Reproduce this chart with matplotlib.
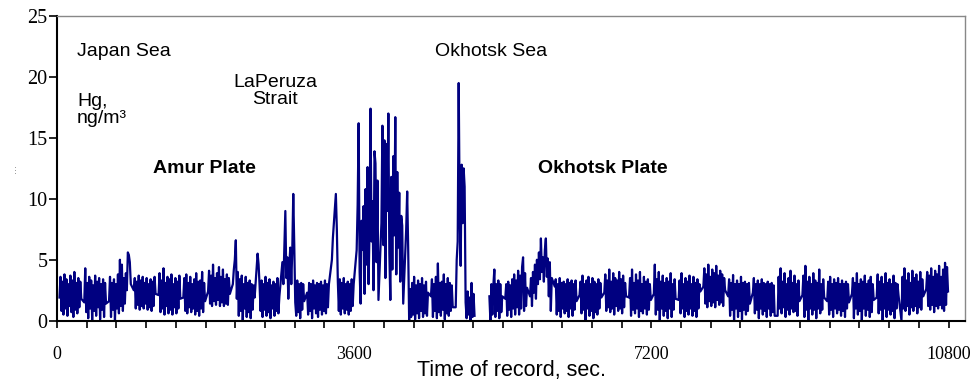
import numpy as np
import matplotlib
matplotlib.use('Agg')
import matplotlib.pyplot as plt

nan = np.nan

# recorder writes blocks of 23 samples, one block every 300 s
block_period = 300
block_offset = 30
sample_step = 12
samples_per_block = 23

# Hg, ng/m3, block by block
japan_sea = [
    1.9, 3.6, 0.8, 3.2, 0.5, 3.8, 1.0, 3.4, 0.4, 3.0, 1.2, 3.7, 0.7, 3.3, 0.3, 4.0, 0.9, 3.1, 0.6, 3.5, 1.1, 3.2, 1.8,
    1.5, 4.3, 0.7, 3.1, 0.2, 3.6, 1.0, 3.3, 0.0, 2.9, 0.8, 3.7, 0.4, 3.2, 1.1, 3.5, 0.1, 3.0, 0.9, 3.4, 0.3, 3.1, 1.4,
    1.6, 3.6, 0.3, 3.1, 0.9, 3.4, 0.0, 3.0, 1.0, 3.8, 0.6, 5.0, 1.2, 4.6, 0.8, 3.5, 1.4, 3.9, 2.5, 5.6, 5.4, 4.8, 3.0,
    2.5, 3.5, 1.0, 3.2, 1.3, 3.7, 0.9, 3.3, 1.2, 3.6, 1.0, 3.1, 1.4, 3.5, 0.9, 3.0, 1.1, 3.4, 0.8, 3.2, 1.2, 3.6, 2.2,
    2.1, 3.9, 0.7, 3.3, 1.0, 4.3, 0.5, 3.1, 1.2, 3.6, 0.6, 3.4, 0.9, 3.8, 0.5, 3.0, 1.1, 3.5, 0.6, 3.2, 1.0, 3.7, 1.8,
    1.9, 3.5, 0.8, 3.8, 0.6, 3.1, 1.1, 3.6, 0.7, 3.0, 1.0, 3.4, 0.5, 3.9, 0.8, 3.2, 0.4, 3.3, 1.0, 4.0, 0.7, 3.1, 1.6,
    2.4, 4.1, 1.4, 3.7, 1.2, 4.6, 1.6, 3.5, 1.3, 3.9, 1.7, 4.4, 1.2, 3.6, 1.5, 4.2, 1.2, 3.4, 1.4, 3.8, 1.3, 3.5, 2.2,
]
la_peruza = [
    3.0, 4.2, 5.0, 6.6, 1.8, 4.0, 0.4, 3.4, 0.8, 3.7, 0.0, 3.0, 1.0, 3.6, 0.3, 3.1, 0.7, 3.3, 0.2, 3.0, 0.9, 2.9, 1.9,
    5.5, 4.6, 2.9, 0.8, 3.3, 0.3, 3.0, 0.9, 3.6, 0.4, 3.1, 0.7, 3.4, 0.2, 2.9, 1.0, 3.2, 0.4, 3.0, 0.8, 3.5, 0.6, 2.0,
    4.8, 3.0, 5.9, 9.0, 3.5, 5.2, 1.8, 4.6, 6.0, 3.0, 5.8, 10.4, 6.2, 1.5, 0.4, 3.3, 0.7, 3.0, 0.2, 3.1, 0.9, 3.0, 1.6,
    2.3, 0.5, 3.1, 0.8, 3.0, 0.2, 3.3, 1.0, 2.9, 0.6, 3.1, 0.3, 3.0, 0.9, 3.2, 0.5, 2.9, 0.8, 3.3, 0.6, 3.0, 1.1, 3.0,
    5.0, 6.8, 8.0, 9.2, 10.4, 7.5, 3.2, 0.8, 3.4, 0.5, 3.1, 1.0, 3.5, 0.6, 3.0, 0.9, 3.2, 0.5, 3.0, 0.8, 3.4, 1.2, 3.0,
]
okhotsk_burst = [
    5.8, 9.5, 16.2, 4.0, 1.4, 8.2, 5.8, 9.4, 2.2, 10.8, 4.6, 12.6, 3.0, 7.4, 17.4, 6.5, 9.8, 2.5, 13.9, 12.9, 4.8, 11.5, 1.7,
    8.0, 16.0, 6.2, 14.8, 3.5, 14.5, 9.0, 17.0, 5.5, 1.7, 11.8, 4.2, 13.5, 7.0, 16.7, 3.8, 12.2, 6.0, 10.5, 3.2, 8.6, 7.8, 1.4,
    7.5, 10.6, 6.0, 0.0, 2.6, 0.3, 3.1, 0.5, 3.6, 0.1, 2.9, 0.6, 3.3, 0.2, 3.0, 0.8, 3.5, 0.3, 2.9, 0.6, 3.2, 0.4, 2.3,
    2.0, 3.4, 0.3, 3.0, 0.8, 3.6, 0.2, 4.7, 0.7, 3.1, 0.4, 3.2, 0.9, 3.8, 0.1, 3.0, 0.6, 3.5, 0.4, 3.1, 0.8, 2.9, 1.1,
    1.1, 5.0, 6.5, 19.5, 9.1, 4.5, 12.8, 8.0, 12.5, 11.0, 1.5, 0.2, 2.4, 0.5, 1.9, 0.0, 3.1, 0.3, 2.2, 0.4, nan, nan, nan,
]
okhotsk_east = [
    nan, nan, nan, nan, nan, nan, nan, nan, nan, 2.0, 0.0, 3.0, 0.5, 2.9, 4.2, 0.3, 3.0, 0.8, 3.3, 0.2, 3.0, 0.7, 2.0,
    1.8, 3.0, 0.4, 3.2, 0.9, 2.9, 0.3, 3.4, 1.0, 3.8, 0.5, 3.3, 1.1, 4.1, 0.5, 3.7, 1.0, 4.4, 5.2, 0.8, 3.9, 1.2, 2.7,
    2.0, 3.5, 1.2, 4.0, 2.3, 4.6, 1.8, 5.0, 3.0, 5.6, 3.4, 6.75, 4.0, 5.2, 3.2, 5.8, 6.75, 3.6, 5.1, 2.0, 4.8, 0.8, 3.5,
    2.8, 3.4, 0.5, 3.0, 0.8, 3.5, 0.3, 3.1, 1.0, 3.2, 0.6, 3.0, 0.8, 3.4, 0.3, 3.1, 1.0, 3.3, 0.4, 3.0, 0.9, 3.3, 1.6,
    2.1, 3.2, 0.6, 3.7, 0.9, 3.0, 0.0, 3.3, 1.0, 3.6, 0.4, 3.0, 0.8, 3.5, 0.2, 3.2, 0.7, 3.0, 0.5, 3.4, 1.0, 3.1, 1.9,
    2.3, 3.8, 0.8, 3.3, 1.1, 4.2, 0.7, 3.2, 1.0, 3.9, 0.5, 3.5, 1.2, 3.3, 0.8, 4.0, 1.0, 3.4, 0.6, 3.7, 1.1, 3.1, 2.0,
    1.9, 3.5, 0.4, 4.2, 0.9, 3.1, 0.6, 3.8, 1.0, 3.3, 0.3, 4.0, 0.8, 3.0, 0.6, 3.6, 1.0, 3.2, 0.5, 3.4, 0.9, 3.0, 1.7,
]
okhotsk_plate = [
    2.2, 4.6, 0.5, 3.4, 0.9, 4.0, 0.0, 3.2, 1.0, 3.7, 0.4, 3.1, 0.8, 3.5, 0.2, 3.2, 1.0, 3.9, 0.3, 3.0, 0.9, 3.4, 1.8,
    1.7, 3.3, 0.6, 3.9, 1.0, 3.0, 0.3, 3.5, 0.8, 3.2, 0.5, 3.7, 1.0, 3.0, 0.4, 3.6, 0.8, 3.1, 0.3, 3.4, 1.0, 3.0, 2.4,
    2.8, 4.3, 1.4, 3.8, 1.1, 4.6, 1.6, 3.6, 1.2, 4.2, 1.5, 3.9, 1.1, 4.5, 1.7, 3.7, 1.3, 4.1, 1.5, 3.8, 1.2, 3.5, 2.5,
    2.0, 3.4, 0.4, 3.1, 0.9, 3.75, 0.0, 3.0, 1.0, 3.3, 0.3, 3.0, 0.8, 3.6, 0.1, 3.1, 0.9, 3.2, 0.5, 3.0, 0.8, 3.1, 1.4,
    2.3, 3.5, 0.6, 3.0, 0.9, 3.3, 0.2, 3.0, 1.0, 3.4, 0.5, 3.1, 0.8, 3.0, 0.3, 3.2, 1.0, 3.0, 0.4, 3.1, 0.7, 2.9, 0.4,
    0.4, 3.6, 1.0, 4.3, 0.6, 3.2, 1.1, 3.9, 0.3, 3.0, 0.9, 3.5, 0.5, 4.1, 1.0, 3.1, 0.7, 3.7, 0.8, 3.0, 0.4, 3.3, 1.6,
    2.1, 3.7, 0.3, 4.5, 0.9, 3.2, 0.0, 3.6, 1.0, 3.0, 0.5, 3.9, 0.9, 3.3, 0.2, 3.1, 1.0, 4.2, 0.6, 3.0, 0.9, 3.4, 1.9,
    1.6, 3.2, 0.5, 3.6, 0.9, 3.0, 0.3, 3.4, 1.0, 3.1, 0.6, 3.5, 0.9, 3.0, 0.4, 3.3, 0.8, 3.0, 0.3, 3.2, 1.0, 3.0, 1.5,
    2.2, 3.5, 0.2, 3.1, 1.0, 3.9, 0.5, 3.0, 0.8, 3.4, 0.0, 3.2, 1.0, 3.7, 0.4, 3.0, 0.9, 3.3, 0.3, 3.6, 0.7, 3.0, 1.7,
    1.9, 3.8, 0.6, 3.2, 0.9, 3.6, 0.0, 3.0, 1.0, 3.9, 0.3, 3.1, 0.9, 3.4, 0.5, 3.0, 0.8, 3.7, 0.2, 3.1, 1.0, 3.0, 2.1,
    0.0, 3.6, 1.0, 4.3, 0.8, 3.3, 1.2, 3.9, 0.5, 3.1, 1.1, 4.1, 0.8, 3.5, 1.2, 3.8, 0.6, 3.2, 1.1, 4.0, 0.9, 3.4, 2.0,
    2.6, 4.0, 1.2, 3.7, 0.9, 4.3, 1.3, 3.6, 0.7, 4.1, 1.2, 3.8, 1.0, 4.5, 1.3, 3.6, 1.0, 4.2, 0.8, 4.75, 1.3, 4.4, 2.4,
]

hg = np.array(japan_sea + la_peruza + okhotsk_burst + okhotsk_east + okhotsk_plate, dtype=float)
idx = np.arange(len(hg))
t = block_period * (idx // samples_per_block) + block_offset + sample_step * (idx % samples_per_block)

x_ticks = np.arange(0, 10801, 360)
x_labels = [str(v) if v % 3600 == 0 else '' for v in x_ticks]
y_ticks = [0, 5, 10, 15, 20, 25]

sans = 'Liberation Sans'
serif = 'Liberation Serif'

fig = plt.figure(figsize=(9.73, 3.82), dpi=100)
ax = fig.add_axes([0.0586, 0.1605, 0.9332, 0.7976])

ax.plot(t, hg, color='#000080', lw=1.6)

ax.set_xlim(0, 11000)
ax.set_ylim(0, 25)
ax.set_xticks(x_ticks)
ax.set_xticklabels(x_labels, fontfamily=serif, fontsize=13)
ax.set_yticks(y_ticks)
ax.set_yticklabels([str(v) for v in y_ticks], fontfamily=serif, fontsize=14.5)
ax.tick_params(axis='x', direction='out', length=5, width=1.2, pad=13)
ax.tick_params(axis='y', direction='out', length=6, width=1.2, pad=1)

for side in ['left', 'bottom']:
    ax.spines[side].set_color('black')
    ax.spines[side].set_linewidth(1.5)
for side in ['top', 'right']:
    ax.spines[side].set_color('#888888')
    ax.spines[side].set_linewidth(1.0)

ax.set_xlabel('Time of record, sec.', fontfamily=sans, fontsize=15.5, labelpad=-2)

ax.text(0.022, 0.885, 'Japan Sea', transform=ax.transAxes, fontfamily=sans, fontsize=14, va='center')
ax.text(0.022, 0.69, 'Hg,\nng/m\u00b3', transform=ax.transAxes, fontfamily=sans, fontsize=14,
        va='center', linespacing=1.0)
ax.text(0.24, 0.755, 'LaPeruza\nStrait', transform=ax.transAxes, fontfamily=sans, fontsize=14,
        va='center', ha='center', linespacing=1.0)
ax.text(0.106, 0.50, 'Amur Plate', transform=ax.transAxes, fontfamily=sans, fontsize=14,
        fontweight='bold', va='center')
ax.text(0.416, 0.885, 'Okhotsk Sea', transform=ax.transAxes, fontfamily=sans, fontsize=14, va='center')
ax.text(0.53, 0.50, 'Okhotsk Plate', transform=ax.transAxes, fontfamily=sans, fontsize=14,
        fontweight='bold', va='center')

fig.text(0.0135, 0.56, '...', rotation=90, fontsize=7, color='#888888', ha='center', va='center')

fig.savefig('out.png', dpi=100)
